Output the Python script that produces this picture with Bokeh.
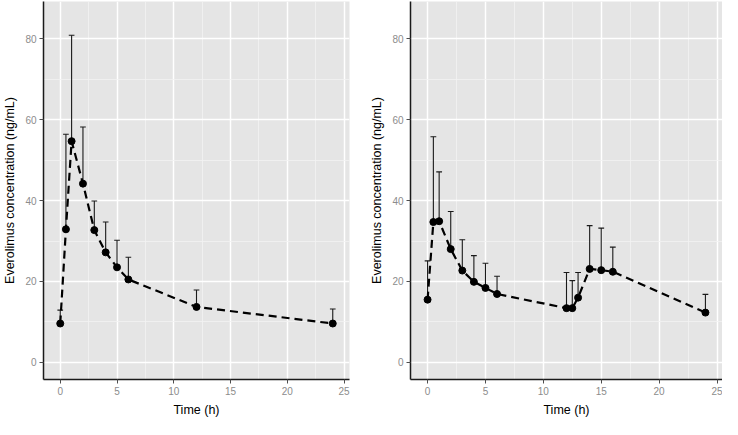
from bokeh.plotting import figure
from bokeh.layouts import row
from bokeh.models import Range1d, FixedTicker, ColumnDataSource
from bokeh.embed import file_html
from bokeh.resources import INLINE

# ---- data ----
time_a = [0, 0.5, 1, 2, 3, 4, 5, 6, 12, 24]
conc_a = [9.6, 32.9, 54.7, 44.2, 32.7, 27.2, 23.5, 20.5, 13.7, 9.6]
upper_a = [12.9, 56.4, 80.9, 58.2, 39.9, 34.7, 30.2, 26.0, 17.9, 13.2]

time_b = [0, 0.5, 1, 2, 3, 4, 5, 6, 12, 12.5, 13, 14, 15, 16, 24]
conc_b = [15.5, 34.7, 34.9, 28.0, 22.7, 19.9, 18.4, 16.9, 13.4, 13.4, 16.0, 23.1, 22.8, 22.4, 12.3]
upper_b = [25.1, 55.8, 47.1, 37.3, 30.3, 26.4, 24.5, 21.3, 22.2, 20.2, 22.2, 33.8, 33.2, 28.5, 16.8]

x_ticks = [0, 5, 10, 15, 20, 25]
x_minor = [2.5, 7.5, 12.5, 17.5, 22.5]
y_ticks = [0, 20, 40, 60, 80]
y_minor = [10, 30, 50, 70]

x_title = "Time (h)"
y_title = "Everolimus concentration (ng/mL)"

FONT = "Liberation Sans"
CAP_HALF = 0.25


def panel(t, c, u, border_left, border_right):
    p = figure(width=361, height=419, output_backend="svg", toolbar_location=None,
               x_range=Range1d(-1.475, 25.475), y_range=Range1d(-4.25, 89.25),
               min_border_left=border_left, min_border_right=border_right,
               min_border_top=1, min_border_bottom=37)
    p.background_fill_color = "#E5E5E5"
    p.border_fill_color = "white"
    p.outline_line_color = None

    xt = FixedTicker(ticks=x_ticks, minor_ticks=x_minor)
    yt = FixedTicker(ticks=y_ticks, minor_ticks=y_minor)
    p.xaxis.ticker = xt
    p.yaxis.ticker = yt
    p.xgrid.ticker = xt
    p.ygrid.ticker = yt
    for g in (p.xgrid, p.ygrid):
        g.grid_line_color = "white"
        g.grid_line_width = 1.5
        g.minor_grid_line_color = "#F2F2F2"
        g.minor_grid_line_width = 0.8

    for ax in (p.xaxis, p.yaxis):
        ax.axis_line_color = "#1a1a1a"
        ax.axis_line_width = 1.5
        ax.major_tick_line_color = "#4d4d4d"
        ax.major_tick_out = 4
        ax.major_tick_in = 0
        ax.minor_tick_line_color = None
        ax.major_label_text_color = "#8c8c8c"
        ax.major_label_text_font = FONT
        ax.major_label_text_font_size = "10px"
        ax.major_label_standoff = 3
        ax.axis_label_text_font = FONT
        ax.axis_label_text_font_size = "12.5px"
        ax.axis_label_text_font_style = "normal"
        ax.axis_label_text_color = "black"
        ax.axis_label_standoff = 5
    p.xaxis.axis_label = x_title
    p.yaxis.axis_label = y_title

    src = ColumnDataSource(dict(
        t=t, c=c, u=u,
        cl=[v - CAP_HALF for v in t], cr=[v + CAP_HALF for v in t],
    ))
    p.segment(x0="t", y0="c", x1="t", y1="u", source=src, line_color="#1a1a1a", line_width=1.1)
    p.segment(x0="cl", y0="u", x1="cr", y1="u", source=src, line_color="#1a1a1a", line_width=1.1)
    p.line(x="t", y="c", source=src, line_color="black", line_width=2.2, line_dash="8 5")
    p.scatter(x="t", y="c", source=src, size=7, fill_color="black", line_color="black")
    return p


p1 = panel(time_a, conc_a, upper_a, 37, 12)
p2 = panel(time_b, conc_b, upper_b, 49, 0)

layout = row(p1, p2)
open("out.html", "w").write(file_html(layout, INLINE))
